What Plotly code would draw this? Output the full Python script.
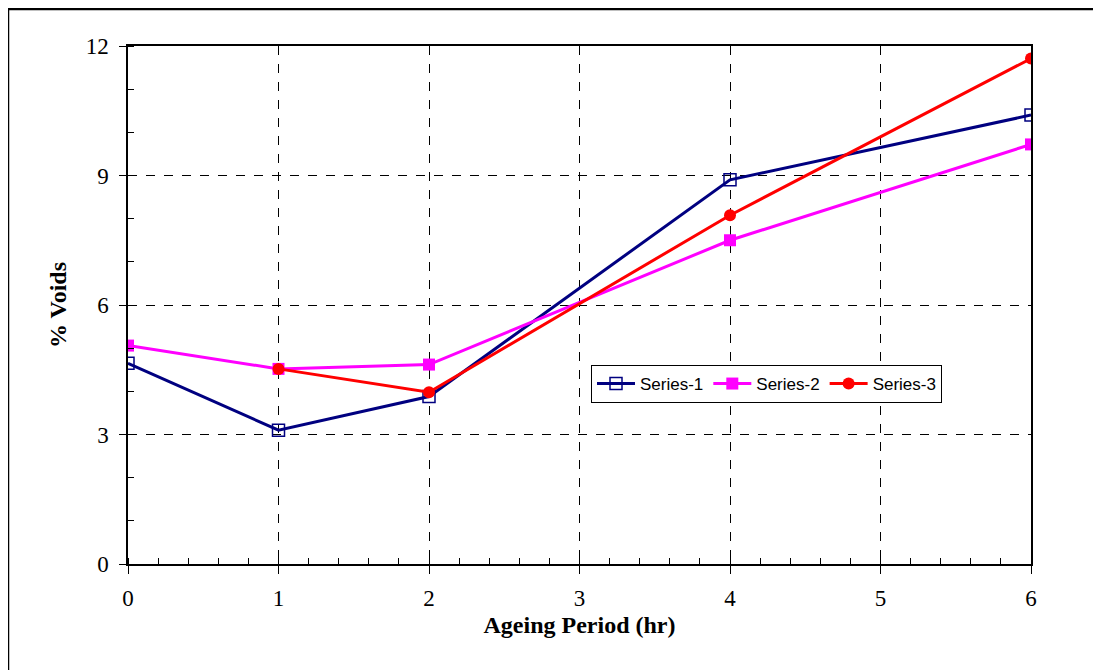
import plotly.graph_objects as go

hours = [0, 1, 2, 4, 6]
series1 = [4.65, 3.10, 3.88, 8.90, 10.40]
series2 = [5.06, 4.52, 4.62, 7.50, 9.72]
series3 = [None, 4.52, 3.98, 8.08, 11.71]
names = ["Series-1", "Series-2", "Series-3"]

# page body has an 8px margin, so the figure is laid out in (x-8, y-8) coordinates
L, T, R, B = 120, 38, 1023, 556   # plot area in figure pixels
W, H = 1093, 662
PW, PH = R - L, B - T

fig = go.Figure()
fig.add_trace(go.Scatter(x=hours, y=series1, name=names[0], mode="lines+markers",
                         line=dict(color="#000080", width=3),
                         marker=dict(symbol="square-open", size=12, color="#000080",
                                     line=dict(width=1.5, color="#000080"))))
fig.add_trace(go.Scatter(x=hours, y=series2, name=names[1], mode="lines+markers",
                         line=dict(color="#FF00FF", width=3),
                         marker=dict(symbol="square", size=12, color="#FF00FF")))
fig.add_trace(go.Scatter(x=hours, y=series3, name=names[2], mode="lines+markers",
                         line=dict(color="#FF0000", width=3),
                         marker=dict(symbol="circle", size=12, color="#FF0000")))

fig.update_layout(
    width=W, height=H,
    margin=dict(l=L, r=W - R, t=T, b=H - B),
    paper_bgcolor="white", plot_bgcolor="white",
    font=dict(family="Liberation Serif", color="black"),
    legend=dict(orientation="h", x=(583 - L) / PW, y=(B - 357) / PH, xanchor="left", yanchor="top",
                bordercolor="black", borderwidth=1, bgcolor="white",
                font=dict(family="Liberation Sans", size=17),
                itemwidth=38, tracegroupgap=0),
    xaxis=dict(range=[0, 6], dtick=1, tick0=0, showgrid=True, gridcolor="black",
               griddash="dash", gridwidth=1, zeroline=False,
               showline=True, linecolor="black", linewidth=1.5, mirror=True,
               ticks="outside", ticklen=8, tickcolor="black",
               tickfont=dict(size=23), ticklabelstandoff=5,
               minor=dict(dtick=0.2, ticks="inside", ticklen=6, tickcolor="black", showgrid=False),
               title=dict(text="<b>Ageing Period (hr)</b>", font=dict(size=24), standoff=6)),
    yaxis=dict(range=[0, 12], dtick=3, tick0=0, showgrid=True, gridcolor="black",
               griddash="dash", gridwidth=1, zeroline=False,
               showline=True, linecolor="black", linewidth=1.5, mirror=True,
               ticks="outside", ticklen=7, tickcolor="black",
               tickfont=dict(size=23), ticklabelstandoff=6,
               minor=dict(dtick=1, ticks="inside", ticklen=6, tickcolor="black", showgrid=False),
               title=dict(text="<b>% Voids</b>", font=dict(size=24), standoff=12)),
    showlegend=True,
)

fig.add_shape(type="rect", xref="paper", yref="paper",
              x0=(0 - L) / PW, x1=(1110 - L) / PW,
              y0=(B - 690) / PH, y1=(B - 1) / PH,
              line=dict(color="black", width=2.5), fillcolor="rgba(0,0,0,0)", layer="below")

fig.write_html("out.html")
